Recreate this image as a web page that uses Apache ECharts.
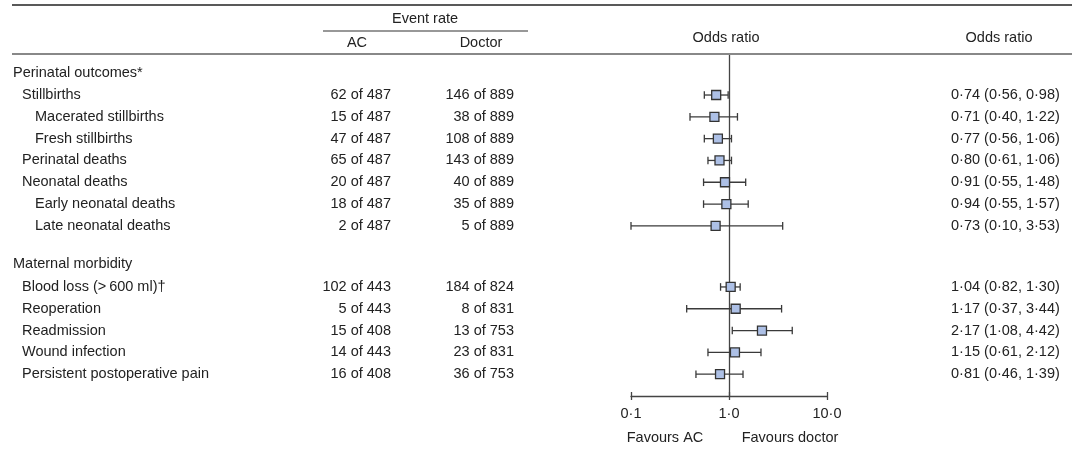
<!DOCTYPE html>
<html>
<head>
<meta charset="utf-8">
<script src="https://cdn.jsdelivr.net/npm/echarts@6/dist/echarts.min.js"></script>
<style>html,body{margin:0;padding:0;background:#fff}#c{width:1072px;height:451px}</style>
</head>
<body>
<div id="c"></div>
<script>
// ---- data ----
const labels = ['Perinatal outcomes*','Stillbirths','Macerated stillbirths','Fresh stillbirths','Perinatal deaths','Neonatal deaths','Early neonatal deaths','Late neonatal deaths','Maternal morbidity','Blood loss (>\u2009600 ml)\u2020','Reoperation','Readmission','Wound infection','Persistent postoperative pain'];
const levels = [0,1,2,2,1,1,2,2,0,1,1,1,1,1];
const rowPos = [0,1,2,3,4,5,6,7,8.75,9.8,10.8,11.8,12.8,13.8];
const acRate = ['','62 of 487','15 of 487','47 of 487','65 of 487','20 of 487','18 of 487','2 of 487','','102 of 443','5 of 443','15 of 408','14 of 443','16 of 408'];
const doctorRate = ['','146 of 889','38 of 889','108 of 889','143 of 889','40 of 889','35 of 889','5 of 889','','184 of 824','8 of 831','13 of 753','23 of 831','36 of 753'];
const oddsRatio = [null,0.74,0.71,0.77,0.80,0.91,0.94,0.73,null,1.04,1.17,2.17,1.15,0.81];
const ciLow = [null,0.56,0.40,0.56,0.61,0.55,0.55,0.10,null,0.82,0.37,1.08,0.61,0.46];
const ciHigh = [null,0.98,1.22,1.06,1.06,1.48,1.57,3.53,null,1.30,3.44,4.42,2.12,1.39];
const xTickValues = [0.1, 1, 10];
const xTickLabels = ['0\u00b71','1\u00b70','10\u00b70'];

const FONT = '"Liberation Sans", Arial, Helvetica, sans-serif';
const FS = 14.5;
const TXT = '#222';
const fmt = v => v.toFixed(2).replace('.', '\u00b7');

const forestData = [];
oddsRatio.forEach((v,i) => { if (v != null) forestData.push([v, rowPos[i], ciLow[i], ciHigh[i]]); });
const textData = rowPos.map((p,i) => [1, p, i]);

const indentX = [13, 22, 35];

const chart = echarts.init(document.getElementById('c'), null, {renderer:'canvas'});
chart.setOption({
  animation: false,
  backgroundColor: '#fff',
  textStyle: {fontFamily: FONT},
  grid: {left: 631, right: 245, top: 55, bottom: 55},
  xAxis: [{
    type: 'log', logBase: 10, min: 0.1, max: 10, position: 'bottom',
    axisLine: {show: true, onZero: false, lineStyle: {color: '#444', width: 1.3}},
    axisTick: {show: true, inside: false, length: 4, lineStyle: {color: '#444', width: 1.3}},
    axisLabel: {show: true, margin: 10, fontSize: FS, color: TXT, fontFamily: FONT,
      formatter: v => { const k = xTickValues.findIndex(t => Math.abs(Math.log10(t) - Math.log10(v)) < 1e-6); return k >= 0 ? xTickLabels[k] : ''; }},
    splitLine: {show: false}
  }, {
    type: 'log', logBase: 10, min: 0.1, max: 10, position: 'bottom',
    axisLine: {show: false, onZero: false},
    axisTick: {show: true, inside: true, length: 4, lineStyle: {color: '#444', width: 1.3}},
    axisLabel: {show: false}, splitLine: {show: false}
  }],
  yAxis: {type: 'value', inverse: true, min: -0.835, max: 14.8, show: false},
  series: [{
    type: 'custom',
    xAxisIndex: 0,
    clip: false,
    silent: true,
    data: forestData,
    encode: {x: [0,2,3], y: 1},
    z: 5,
    renderItem: (params, api) => {
      const c = api.coord([api.value(0), api.value(1)]);
      const lo = api.coord([api.value(2), api.value(1)]);
      const hi = api.coord([api.value(3), api.value(1)]);
      const y = c[1], cap = 3.8, s = 9;
      const st = {stroke: '#3a3a3a', lineWidth: 1.3};
      return {type: 'group', children: [
        {type: 'line', shape: {x1: lo[0], y1: y, x2: hi[0], y2: y}, style: st},
        {type: 'line', shape: {x1: lo[0], y1: y - cap, x2: lo[0], y2: y + cap}, style: st},
        {type: 'line', shape: {x1: hi[0], y1: y - cap, x2: hi[0], y2: y + cap}, style: st},
        {type: 'rect', shape: {x: c[0] - s/2, y: y - s/2, width: s, height: s}, style: {fill: '#adc0e6', stroke: '#333', lineWidth: 1.3}, z2: 10}
      ]};
    },
    markLine: {
      silent: true, symbol: 'none', label: {show: false},
      lineStyle: {color: '#444', width: 1.3, type: 'solid'},
      data: [{xAxis: 1}]
    }
  }, {
    type: 'custom',
    clip: false,
    silent: true,
    data: textData,
    encode: {x: 0, y: 1},
    renderItem: (params, api) => {
      const i = api.value(2);
      const y = api.coord([1, api.value(1)])[1];
      const base = {fontFamily: FONT, fontSize: FS, fill: TXT, verticalAlign: 'middle'};
      const ch = [{type: 'text', x: indentX[levels[i]], y: y, style: Object.assign({text: labels[i], align: 'left'}, base)}];
      if (acRate[i]) ch.push({type: 'text', x: 391, y: y, style: Object.assign({text: acRate[i], align: 'right'}, base)});
      if (doctorRate[i]) ch.push({type: 'text', x: 514, y: y, style: Object.assign({text: doctorRate[i], align: 'right'}, base)});
      if (oddsRatio[i] != null) ch.push({type: 'text', x: 951, y: y, style: Object.assign({text: fmt(oddsRatio[i]) + ' (' + fmt(ciLow[i]) + ', ' + fmt(ciHigh[i]) + ')', align: 'left'}, base)});
      return {type: 'group', children: ch};
    }
  }],
  graphic: [
    {type: 'line', shape: {x1: 12, y1: 5, x2: 1072, y2: 5}, style: {stroke: '#222', lineWidth: 1.3}},
    {type: 'line', shape: {x1: 12, y1: 54, x2: 1072, y2: 54}, style: {stroke: '#888', lineWidth: 2}},
    {type: 'line', shape: {x1: 323, y1: 31, x2: 528, y2: 31}, style: {stroke: '#333', lineWidth: 1.2}},
    {type: 'text', x: 425, y: 19, style: {text: 'Event rate', align: 'center', verticalAlign: 'middle', fontFamily: FONT, fontSize: FS, fill: TXT}},
    {type: 'text', x: 357, y: 43, style: {text: 'AC', align: 'center', verticalAlign: 'middle', fontFamily: FONT, fontSize: FS, fill: TXT}},
    {type: 'text', x: 481, y: 43, style: {text: 'Doctor', align: 'center', verticalAlign: 'middle', fontFamily: FONT, fontSize: FS, fill: TXT}},
    {type: 'text', x: 726, y: 38, style: {text: 'Odds ratio', align: 'center', verticalAlign: 'middle', fontFamily: FONT, fontSize: FS, fill: TXT}},
    {type: 'text', x: 999, y: 38, style: {text: 'Odds ratio', align: 'center', verticalAlign: 'middle', fontFamily: FONT, fontSize: FS, fill: TXT}},
    {type: 'text', x: 665, y: 438, style: {text: 'Favours AC', align: 'center', verticalAlign: 'middle', fontFamily: FONT, fontSize: FS, fill: TXT}},
    {type: 'text', x: 790, y: 438, style: {text: 'Favours doctor', align: 'center', verticalAlign: 'middle', fontFamily: FONT, fontSize: FS, fill: TXT}}
  ]
});
</script>
</body>
</html>
